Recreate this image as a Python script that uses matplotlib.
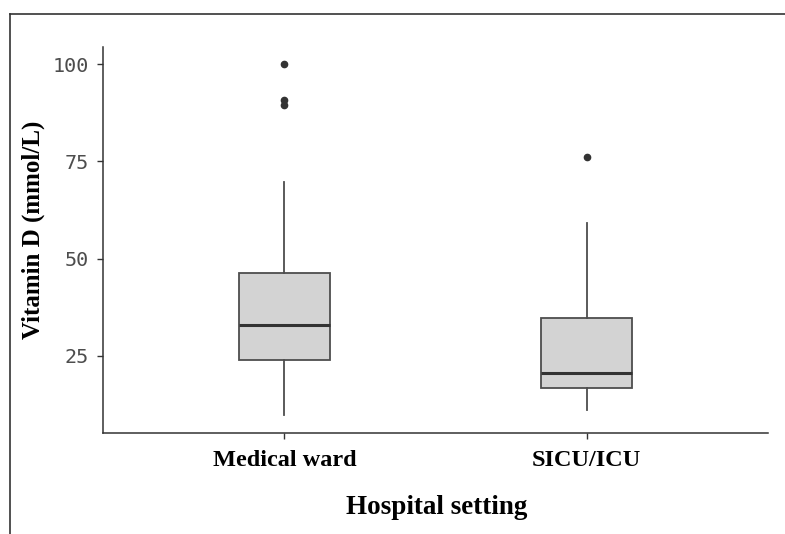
import matplotlib
matplotlib.use("Agg")
import matplotlib.pyplot as plt
from matplotlib.lines import Line2D

# box summary
settings = ["Medical ward", "SICU/ICU"]
whisker_low = [9.8, 11.1]
q1 = [24.0, 16.8]
median = [33.0, 20.6]
q3 = [46.3, 34.8]
whisker_high = [69.7, 59.2]
outliers = [[100.0, 90.8, 89.6], [76.2]]
y_ticks = [25, 50, 75, 100]

stats = []
for i in range(len(settings)):
    stats.append(dict(label=settings[i], whislo=whisker_low[i], q1=q1[i],
                      med=median[i], q3=q3[i], whishi=whisker_high[i],
                      fliers=outliers[i]))

fig = plt.figure(figsize=(7.85, 5.34), dpi=100)
ax = fig.add_axes([103 / 785, 1 - 433 / 534, (768 - 103) / 785, (433 - 47) / 534])

edge = "#4d4d4d"
ax.bxp(stats, positions=[1, 2], widths=0.3, patch_artist=True, showcaps=False,
       boxprops=dict(facecolor="#d3d3d3", edgecolor=edge, linewidth=1.3),
       medianprops=dict(color="#333333", linewidth=2.2),
       whiskerprops=dict(color=edge, linewidth=1.3),
       flierprops=dict(marker="o", markerfacecolor="#333333", markeredgecolor="#333333",
                       markersize=4.5))

ax.set_xlim(0.4, 2.6)
ax.set_ylim(5.2, 104.4)
ax.set_yticks(y_ticks)
ax.set_xticks([1, 2])
ax.set_xticklabels(settings, fontfamily="Liberation Serif", fontweight="bold",
                   fontsize=17.5, color="black")
for lab in ax.get_yticklabels():
    lab.set_fontfamily("DejaVu Sans Mono")
    lab.set_fontsize(14.5)
    lab.set_color("#4d4d4d")

for s in ["top", "right"]:
    ax.spines[s].set_visible(False)
for s in ["left", "bottom"]:
    ax.spines[s].set_color("#333333")
    ax.spines[s].set_linewidth(1.1)
ax.tick_params(axis="both", colors="#333333", length=4, width=1)
ax.tick_params(axis="x", pad=8, labelcolor="black")
ax.tick_params(axis="y", pad=6, labelcolor="#4d4d4d")

ax.set_xlabel("Hospital setting", fontfamily="Liberation Serif", fontweight="bold",
              fontsize=19.5)
ax.set_ylabel("Vitamin D (mmol/L)", fontfamily="Liberation Serif", fontweight="bold",
              fontsize=18)
ax.xaxis.set_label_coords(0.502, -(508 - 433) / 386, transform=ax.transAxes)
ax.xaxis.label.set_va("center")
ax.yaxis.set_label_coords(-(103 - 33) / 665, (433 - 230) / 386, transform=ax.transAxes)
ax.yaxis.label.set_va("center")

# outer frame (only left and top edges are in view)
fig.add_artist(Line2D([10 / 785, 10 / 785], [0, 1 - 14 / 534], transform=fig.transFigure,
                      color="#333333", linewidth=1.2))
fig.add_artist(Line2D([10 / 785, 1], [1 - 14 / 534, 1 - 14 / 534], transform=fig.transFigure,
                      color="#333333", linewidth=1.2))

fig.savefig("out.png", dpi=100)
